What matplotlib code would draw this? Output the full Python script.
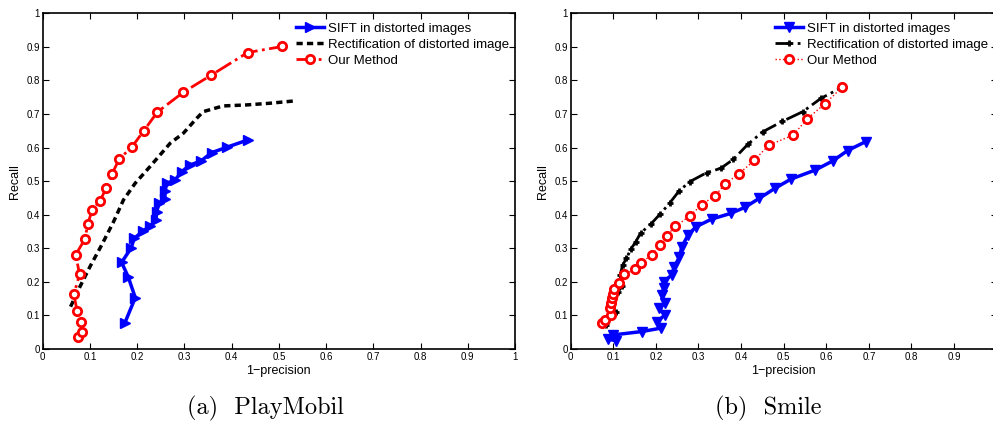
import matplotlib
matplotlib.use("Agg")
import matplotlib.pyplot as plt

# ---- data ----
# (a) PlayMobil
pm_sift_x = [0.174, 0.196, 0.181, 0.167, 0.187, 0.194, 0.213, 0.227, 0.240, 0.241, 0.247,
             0.259, 0.259, 0.263, 0.280, 0.294, 0.312, 0.335, 0.358, 0.390, 0.435]
pm_sift_y = [0.078, 0.153, 0.215, 0.258, 0.300, 0.330, 0.352, 0.366, 0.384, 0.409, 0.434,
             0.446, 0.471, 0.494, 0.503, 0.528, 0.548, 0.560, 0.585, 0.601, 0.623]
pm_rect_x = [0.059, 0.079, 0.100, 0.125, 0.150, 0.171, 0.196, 0.227, 0.270, 0.298, 0.326,
             0.340, 0.382, 0.432, 0.481, 0.534]
pm_rect_y = [0.126, 0.186, 0.245, 0.310, 0.379, 0.444, 0.494, 0.543, 0.613, 0.643, 0.687,
             0.707, 0.724, 0.727, 0.732, 0.739]
pm_ours_x = [0.0755, 0.0826, 0.081, 0.073, 0.066, 0.078, 0.070, 0.090, 0.095, 0.105, 0.121,
             0.135, 0.147, 0.162, 0.189, 0.214, 0.243, 0.298, 0.356, 0.434, 0.507]
pm_ours_y = [0.035, 0.050, 0.081, 0.112, 0.163, 0.222, 0.281, 0.329, 0.371, 0.415, 0.440,
             0.481, 0.522, 0.566, 0.602, 0.650, 0.706, 0.765, 0.815, 0.883, 0.901]

# (b) Smile
sm_sift_x = [0.088, 0.106, 0.100, 0.167, 0.211, 0.202, 0.221, 0.208, 0.221, 0.214, 0.218,
             0.218, 0.237, 0.243, 0.255, 0.261, 0.276, 0.294, 0.331, 0.376, 0.409, 0.443,
             0.480, 0.517, 0.574, 0.615, 0.650, 0.693]
sm_sift_y = [0.029, 0.025, 0.042, 0.052, 0.062, 0.081, 0.101, 0.121, 0.138, 0.161, 0.181,
             0.201, 0.220, 0.245, 0.273, 0.305, 0.340, 0.364, 0.387, 0.404, 0.422, 0.449,
             0.479, 0.506, 0.533, 0.560, 0.591, 0.618]
sm_rect_x = [0.083, 0.091, 0.106, 0.091, 0.100, 0.112, 0.120, 0.116, 0.122, 0.131, 0.141,
             0.153, 0.164, 0.188, 0.210, 0.232, 0.254, 0.279, 0.319, 0.352, 0.382, 0.417,
             0.451, 0.497, 0.545, 0.588, 0.638]
sm_rect_y = [0.073, 0.096, 0.111, 0.131, 0.151, 0.171, 0.188, 0.220, 0.250, 0.270, 0.297,
             0.320, 0.345, 0.372, 0.402, 0.434, 0.470, 0.498, 0.525, 0.538, 0.565, 0.611,
             0.647, 0.678, 0.707, 0.747, 0.780]
sm_ours_x = [0.073, 0.080, 0.095, 0.092, 0.095, 0.097, 0.099, 0.102, 0.114, 0.126, 0.151,
             0.164, 0.191, 0.210, 0.225, 0.246, 0.280, 0.308, 0.339, 0.363, 0.395, 0.431,
             0.465, 0.522, 0.555, 0.597, 0.638]
sm_ours_y = [0.076, 0.086, 0.101, 0.121, 0.136, 0.153, 0.164, 0.179, 0.198, 0.222, 0.237,
             0.257, 0.280, 0.311, 0.338, 0.365, 0.397, 0.430, 0.457, 0.492, 0.522, 0.562,
             0.607, 0.637, 0.685, 0.731, 0.780]

labels = ["SIFT in distorted images", "Rectification of distorted image", "Our Method"]
ticks = [0, 0.1, 0.2, 0.3, 0.4, 0.5, 0.6, 0.7, 0.8, 0.9, 1]
tick_labels = ["0", "0.1", "0.2", "0.3", "0.4", "0.5", "0.6", "0.7", "0.8", "0.9", "1"]
# the right panel is cropped in the original, its "1" label falls off the page
xtick_labels_b = ["0", "0.1", "0.2", "0.3", "0.4", "0.5", "0.6", "0.7", "0.8", "0.9", ""]
captions = ["(a)  PlayMobil", "(b)  Smile"]

plt.rcParams['font.family'] = ['Liberation Sans', 'DejaVu Sans']

fig = plt.figure(figsize=(9.93, 4.25), dpi=100)
ax1 = fig.add_axes([0.043, 0.1788, 0.4756, 0.79])
ax2 = fig.add_axes([0.5747, 0.1788, 0.429, 0.79])

# left panel
ax1.plot(pm_sift_x, pm_sift_y, '-', color='blue', lw=2.5, marker='>', ms=7, label=labels[0])
ax1.plot(pm_rect_x, pm_rect_y, '--', color='black', lw=2.5, dashes=(1.8, 1.2), label=labels[1])
ax1.plot(pm_ours_x, pm_ours_y, '-.', color='red', lw=2, marker='o', ms=6, mew=2,
         mfc='white', label=labels[2])

# right panel
ax2.plot(sm_sift_x, sm_sift_y, '-', color='blue', lw=2.5, marker='v', ms=7, label=labels[0])
ax2.plot(sm_rect_x, sm_rect_y, '-.', color='black', lw=2, marker='+', ms=5, mew=2,
         label=labels[1])
ax2.plot(sm_ours_x, sm_ours_y, ':', color='red', lw=1, marker='o', ms=6, mew=2,
         mfc='white', label=labels[2])

for ax, lx, xtl in ((ax1, 0.536, tick_labels), (ax2, 0.4796, xtick_labels_b)):
    ax.set_xlim(0, 1)
    ax.set_ylim(0, 1)
    ax.set_xticks(ticks)
    ax.set_xticklabels(xtl)
    ax.set_yticks(ticks)
    ax.set_yticklabels(tick_labels)
    ax.tick_params(direction='in', length=4, width=0.8, labelsize=7, pad=2,
                   top=True, right=True)
    for sp in ax.spines.values():
        sp.set_linewidth(1.2)
    ax.set_xlabel("1\u2212precision", fontsize=9, labelpad=2)
    ax.set_ylabel("Recall", fontsize=9, labelpad=4)
    ax.legend(loc='upper left', bbox_to_anchor=(lx, 0.973), frameon=False, fontsize=9.5,
              borderpad=0, borderaxespad=0, handlelength=2.1, handletextpad=0.3,
              labelspacing=0.3)

fig.text(0.267, 0.04, captions[0], ha='center', va='center', fontsize=17.5,
         family='cmr10')
fig.text(0.774, 0.04, captions[1], ha='center', va='center', fontsize=17.5,
         family='cmr10')

fig.savefig("out.png", dpi=100)
